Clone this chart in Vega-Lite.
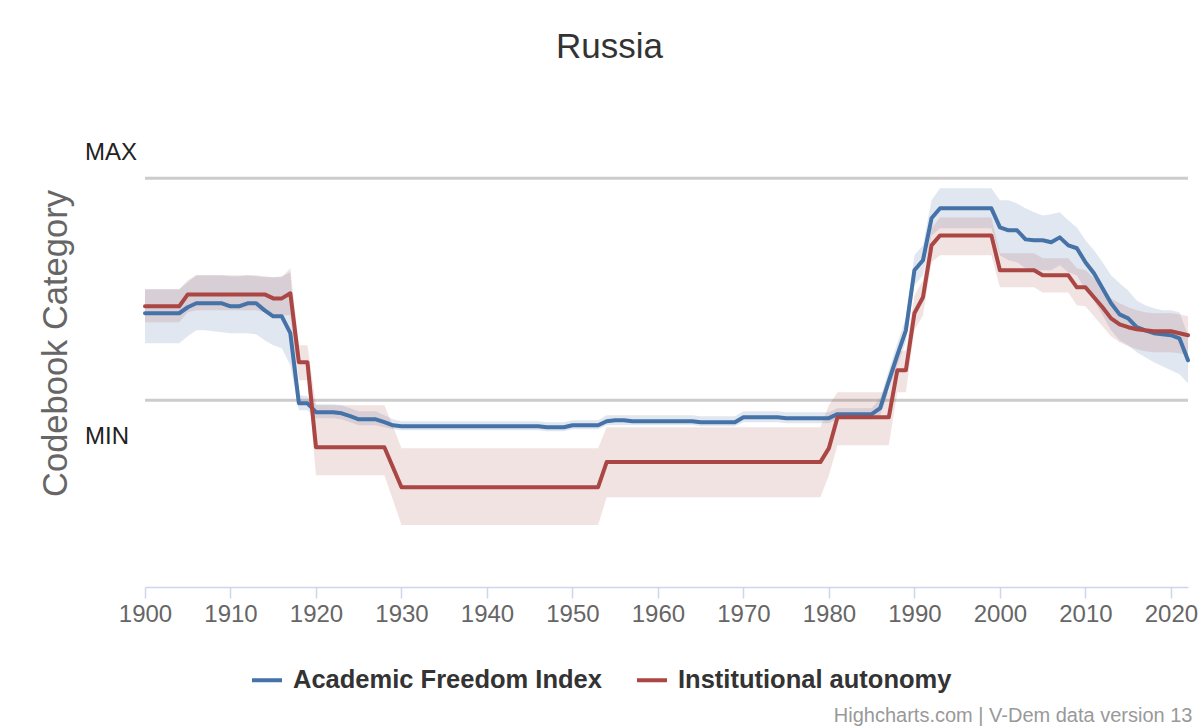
{
  "$schema": "https://vega.github.io/schema/vega-lite/v6.json",
  "width": 1043,
  "height": 453,
  "autosize": {"type": "none"},
  "padding": {"left": 145, "top": 134, "right": 11, "bottom": 139},
  "background": "white",
  "config": {"font": "Liberation Sans", "view": {"stroke": null}},
  "title": {"text": "Russia", "fontSize": 35, "font": "Liberation Sans", "fontWeight": "normal", "color": "#333333", "anchor": "middle", "frame": "group", "dx": -57, "offset": 69},
  "datasets": {
    "russia": [
      {"year":1900,"afi":0.392,"afiHi":0.5,"afiLo":0.257,"ia":0.423,"iaHi":0.5,"iaLo":0.351},
      {"year":1901,"afi":0.392,"afiHi":0.5,"afiLo":0.257,"ia":0.423,"iaHi":0.5,"iaLo":0.351},
      {"year":1902,"afi":0.392,"afiHi":0.5,"afiLo":0.257,"ia":0.423,"iaHi":0.5,"iaLo":0.351},
      {"year":1903,"afi":0.392,"afiHi":0.5,"afiLo":0.257,"ia":0.423,"iaHi":0.5,"iaLo":0.351},
      {"year":1904,"afi":0.392,"afiHi":0.5,"afiLo":0.257,"ia":0.423,"iaHi":0.5,"iaLo":0.351},
      {"year":1905,"afi":0.419,"afiHi":0.532,"afiLo":0.288,"ia":0.477,"iaHi":0.541,"iaLo":0.396},
      {"year":1906,"afi":0.437,"afiHi":0.563,"afiLo":0.315,"ia":0.477,"iaHi":0.563,"iaLo":0.405},
      {"year":1907,"afi":0.437,"afiHi":0.563,"afiLo":0.315,"ia":0.477,"iaHi":0.563,"iaLo":0.405},
      {"year":1908,"afi":0.437,"afiHi":0.563,"afiLo":0.311,"ia":0.477,"iaHi":0.563,"iaLo":0.405},
      {"year":1909,"afi":0.437,"afiHi":0.563,"afiLo":0.306,"ia":0.477,"iaHi":0.563,"iaLo":0.405},
      {"year":1910,"afi":0.423,"afiHi":0.559,"afiLo":0.302,"ia":0.477,"iaHi":0.563,"iaLo":0.405},
      {"year":1911,"afi":0.423,"afiHi":0.559,"afiLo":0.302,"ia":0.477,"iaHi":0.563,"iaLo":0.405},
      {"year":1912,"afi":0.437,"afiHi":0.563,"afiLo":0.302,"ia":0.477,"iaHi":0.563,"iaLo":0.405},
      {"year":1913,"afi":0.437,"afiHi":0.559,"afiLo":0.297,"ia":0.477,"iaHi":0.563,"iaLo":0.405},
      {"year":1914,"afi":0.405,"afiHi":0.554,"afiLo":0.270,"ia":0.477,"iaHi":0.559,"iaLo":0.396},
      {"year":1915,"afi":0.378,"afiHi":0.554,"afiLo":0.248,"ia":0.459,"iaHi":0.554,"iaLo":0.383},
      {"year":1916,"afi":0.378,"afiHi":0.559,"afiLo":0.234,"ia":0.459,"iaHi":0.554,"iaLo":0.383},
      {"year":1917,"afi":0.302,"afiHi":0.577,"afiLo":0.158,"ia":0.482,"iaHi":0.595,"iaLo":0.383},
      {"year":1918,"afi":-0.014,"afiHi":0.023,"afiLo":-0.045,"ia":0.171,"iaHi":0.248,"iaLo":0.090},
      {"year":1919,"afi":-0.014,"afiHi":0.018,"afiLo":-0.045,"ia":0.171,"iaHi":0.248,"iaLo":0.090},
      {"year":1920,"afi":-0.054,"afiHi":-0.018,"afiLo":-0.081,"ia":-0.212,"iaHi":-0.023,"iaLo":-0.338},
      {"year":1921,"afi":-0.054,"afiHi":-0.018,"afiLo":-0.081,"ia":-0.212,"iaHi":-0.023,"iaLo":-0.338},
      {"year":1922,"afi":-0.054,"afiHi":-0.018,"afiLo":-0.081,"ia":-0.212,"iaHi":-0.023,"iaLo":-0.338},
      {"year":1923,"afi":-0.059,"afiHi":-0.023,"afiLo":-0.086,"ia":-0.212,"iaHi":-0.023,"iaLo":-0.338},
      {"year":1924,"afi":-0.072,"afiHi":-0.036,"afiLo":-0.099,"ia":-0.212,"iaHi":-0.023,"iaLo":-0.338},
      {"year":1925,"afi":-0.086,"afiHi":-0.050,"afiLo":-0.113,"ia":-0.212,"iaHi":-0.023,"iaLo":-0.338},
      {"year":1926,"afi":-0.086,"afiHi":-0.050,"afiLo":-0.113,"ia":-0.212,"iaHi":-0.023,"iaLo":-0.338},
      {"year":1927,"afi":-0.086,"afiHi":-0.050,"afiLo":-0.113,"ia":-0.212,"iaHi":-0.023,"iaLo":-0.338},
      {"year":1928,"afi":-0.099,"afiHi":-0.068,"afiLo":-0.122,"ia":-0.212,"iaHi":-0.023,"iaLo":-0.338},
      {"year":1929,"afi":-0.113,"afiHi":-0.086,"afiLo":-0.131,"ia":-0.302,"iaHi":-0.117,"iaLo":-0.450},
      {"year":1930,"afi":-0.117,"afiHi":-0.095,"afiLo":-0.135,"ia":-0.392,"iaHi":-0.216,"iaLo":-0.563},
      {"year":1931,"afi":-0.117,"afiHi":-0.095,"afiLo":-0.135,"ia":-0.392,"iaHi":-0.216,"iaLo":-0.563},
      {"year":1932,"afi":-0.117,"afiHi":-0.095,"afiLo":-0.135,"ia":-0.392,"iaHi":-0.216,"iaLo":-0.563},
      {"year":1933,"afi":-0.117,"afiHi":-0.095,"afiLo":-0.135,"ia":-0.392,"iaHi":-0.216,"iaLo":-0.563},
      {"year":1934,"afi":-0.117,"afiHi":-0.095,"afiLo":-0.135,"ia":-0.392,"iaHi":-0.216,"iaLo":-0.563},
      {"year":1935,"afi":-0.117,"afiHi":-0.095,"afiLo":-0.135,"ia":-0.392,"iaHi":-0.216,"iaLo":-0.563},
      {"year":1936,"afi":-0.117,"afiHi":-0.095,"afiLo":-0.135,"ia":-0.392,"iaHi":-0.216,"iaLo":-0.563},
      {"year":1937,"afi":-0.117,"afiHi":-0.095,"afiLo":-0.135,"ia":-0.392,"iaHi":-0.216,"iaLo":-0.563},
      {"year":1938,"afi":-0.117,"afiHi":-0.095,"afiLo":-0.135,"ia":-0.392,"iaHi":-0.216,"iaLo":-0.563},
      {"year":1939,"afi":-0.117,"afiHi":-0.095,"afiLo":-0.135,"ia":-0.392,"iaHi":-0.216,"iaLo":-0.563},
      {"year":1940,"afi":-0.117,"afiHi":-0.095,"afiLo":-0.135,"ia":-0.392,"iaHi":-0.216,"iaLo":-0.563},
      {"year":1941,"afi":-0.117,"afiHi":-0.095,"afiLo":-0.135,"ia":-0.392,"iaHi":-0.216,"iaLo":-0.563},
      {"year":1942,"afi":-0.117,"afiHi":-0.095,"afiLo":-0.135,"ia":-0.392,"iaHi":-0.216,"iaLo":-0.563},
      {"year":1943,"afi":-0.117,"afiHi":-0.095,"afiLo":-0.135,"ia":-0.392,"iaHi":-0.216,"iaLo":-0.563},
      {"year":1944,"afi":-0.117,"afiHi":-0.095,"afiLo":-0.135,"ia":-0.392,"iaHi":-0.216,"iaLo":-0.563},
      {"year":1945,"afi":-0.117,"afiHi":-0.095,"afiLo":-0.135,"ia":-0.392,"iaHi":-0.216,"iaLo":-0.563},
      {"year":1946,"afi":-0.117,"afiHi":-0.095,"afiLo":-0.135,"ia":-0.392,"iaHi":-0.216,"iaLo":-0.563},
      {"year":1947,"afi":-0.122,"afiHi":-0.099,"afiLo":-0.140,"ia":-0.392,"iaHi":-0.216,"iaLo":-0.563},
      {"year":1948,"afi":-0.122,"afiHi":-0.099,"afiLo":-0.140,"ia":-0.392,"iaHi":-0.216,"iaLo":-0.563},
      {"year":1949,"afi":-0.122,"afiHi":-0.099,"afiLo":-0.140,"ia":-0.392,"iaHi":-0.216,"iaLo":-0.563},
      {"year":1950,"afi":-0.113,"afiHi":-0.090,"afiLo":-0.131,"ia":-0.392,"iaHi":-0.216,"iaLo":-0.563},
      {"year":1951,"afi":-0.113,"afiHi":-0.090,"afiLo":-0.131,"ia":-0.392,"iaHi":-0.216,"iaLo":-0.563},
      {"year":1952,"afi":-0.113,"afiHi":-0.090,"afiLo":-0.131,"ia":-0.392,"iaHi":-0.216,"iaLo":-0.563},
      {"year":1953,"afi":-0.113,"afiHi":-0.090,"afiLo":-0.131,"ia":-0.392,"iaHi":-0.216,"iaLo":-0.563},
      {"year":1954,"afi":-0.095,"afiHi":-0.068,"afiLo":-0.113,"ia":-0.279,"iaHi":-0.122,"iaLo":-0.437},
      {"year":1955,"afi":-0.090,"afiHi":-0.068,"afiLo":-0.113,"ia":-0.279,"iaHi":-0.122,"iaLo":-0.437},
      {"year":1956,"afi":-0.090,"afiHi":-0.068,"afiLo":-0.113,"ia":-0.279,"iaHi":-0.122,"iaLo":-0.437},
      {"year":1957,"afi":-0.095,"afiHi":-0.068,"afiLo":-0.113,"ia":-0.279,"iaHi":-0.122,"iaLo":-0.437},
      {"year":1958,"afi":-0.095,"afiHi":-0.068,"afiLo":-0.113,"ia":-0.279,"iaHi":-0.122,"iaLo":-0.437},
      {"year":1959,"afi":-0.095,"afiHi":-0.068,"afiLo":-0.113,"ia":-0.279,"iaHi":-0.122,"iaLo":-0.437},
      {"year":1960,"afi":-0.095,"afiHi":-0.068,"afiLo":-0.113,"ia":-0.279,"iaHi":-0.122,"iaLo":-0.437},
      {"year":1961,"afi":-0.095,"afiHi":-0.068,"afiLo":-0.113,"ia":-0.279,"iaHi":-0.122,"iaLo":-0.437},
      {"year":1962,"afi":-0.095,"afiHi":-0.068,"afiLo":-0.113,"ia":-0.279,"iaHi":-0.122,"iaLo":-0.437},
      {"year":1963,"afi":-0.095,"afiHi":-0.068,"afiLo":-0.113,"ia":-0.279,"iaHi":-0.122,"iaLo":-0.437},
      {"year":1964,"afi":-0.095,"afiHi":-0.068,"afiLo":-0.113,"ia":-0.279,"iaHi":-0.122,"iaLo":-0.437},
      {"year":1965,"afi":-0.099,"afiHi":-0.072,"afiLo":-0.117,"ia":-0.279,"iaHi":-0.122,"iaLo":-0.437},
      {"year":1966,"afi":-0.099,"afiHi":-0.072,"afiLo":-0.117,"ia":-0.279,"iaHi":-0.122,"iaLo":-0.437},
      {"year":1967,"afi":-0.099,"afiHi":-0.072,"afiLo":-0.117,"ia":-0.279,"iaHi":-0.122,"iaLo":-0.437},
      {"year":1968,"afi":-0.099,"afiHi":-0.072,"afiLo":-0.117,"ia":-0.279,"iaHi":-0.122,"iaLo":-0.437},
      {"year":1969,"afi":-0.099,"afiHi":-0.072,"afiLo":-0.117,"ia":-0.279,"iaHi":-0.122,"iaLo":-0.437},
      {"year":1970,"afi":-0.077,"afiHi":-0.050,"afiLo":-0.099,"ia":-0.279,"iaHi":-0.122,"iaLo":-0.437},
      {"year":1971,"afi":-0.077,"afiHi":-0.050,"afiLo":-0.099,"ia":-0.279,"iaHi":-0.122,"iaLo":-0.437},
      {"year":1972,"afi":-0.077,"afiHi":-0.050,"afiLo":-0.099,"ia":-0.279,"iaHi":-0.122,"iaLo":-0.437},
      {"year":1973,"afi":-0.077,"afiHi":-0.050,"afiLo":-0.099,"ia":-0.279,"iaHi":-0.122,"iaLo":-0.437},
      {"year":1974,"afi":-0.077,"afiHi":-0.050,"afiLo":-0.099,"ia":-0.279,"iaHi":-0.122,"iaLo":-0.437},
      {"year":1975,"afi":-0.081,"afiHi":-0.054,"afiLo":-0.104,"ia":-0.279,"iaHi":-0.122,"iaLo":-0.437},
      {"year":1976,"afi":-0.081,"afiHi":-0.054,"afiLo":-0.104,"ia":-0.279,"iaHi":-0.122,"iaLo":-0.437},
      {"year":1977,"afi":-0.081,"afiHi":-0.054,"afiLo":-0.104,"ia":-0.279,"iaHi":-0.122,"iaLo":-0.437},
      {"year":1978,"afi":-0.081,"afiHi":-0.054,"afiLo":-0.104,"ia":-0.279,"iaHi":-0.122,"iaLo":-0.437},
      {"year":1979,"afi":-0.081,"afiHi":-0.054,"afiLo":-0.104,"ia":-0.279,"iaHi":-0.122,"iaLo":-0.437},
      {"year":1980,"afi":-0.081,"afiHi":-0.054,"afiLo":-0.104,"ia":-0.216,"iaHi":-0.023,"iaLo":-0.338},
      {"year":1981,"afi":-0.063,"afiHi":-0.036,"afiLo":-0.086,"ia":-0.077,"iaHi":0.036,"iaLo":-0.203},
      {"year":1982,"afi":-0.063,"afiHi":-0.036,"afiLo":-0.086,"ia":-0.077,"iaHi":0.036,"iaLo":-0.203},
      {"year":1983,"afi":-0.063,"afiHi":-0.036,"afiLo":-0.086,"ia":-0.077,"iaHi":0.036,"iaLo":-0.203},
      {"year":1984,"afi":-0.063,"afiHi":-0.036,"afiLo":-0.086,"ia":-0.077,"iaHi":0.036,"iaLo":-0.203},
      {"year":1985,"afi":-0.063,"afiHi":-0.036,"afiLo":-0.086,"ia":-0.077,"iaHi":0.036,"iaLo":-0.203},
      {"year":1986,"afi":-0.036,"afiHi":0.009,"afiLo":-0.068,"ia":-0.077,"iaHi":0.036,"iaLo":-0.203},
      {"year":1987,"afi":0.086,"afiHi":0.135,"afiLo":0.045,"ia":-0.077,"iaHi":0.036,"iaLo":-0.203},
      {"year":1988,"afi":0.203,"afiHi":0.257,"afiLo":0.158,"ia":0.135,"iaHi":0.216,"iaLo":0.036},
      {"year":1989,"afi":0.315,"afiHi":0.369,"afiLo":0.261,"ia":0.135,"iaHi":0.225,"iaLo":0.036},
      {"year":1990,"afi":0.586,"afiHi":0.653,"afiLo":0.518,"ia":0.392,"iaHi":0.473,"iaLo":0.315},
      {"year":1991,"afi":0.631,"afiHi":0.698,"afiLo":0.563,"ia":0.464,"iaHi":0.541,"iaLo":0.383},
      {"year":1992,"afi":0.820,"afiHi":0.901,"afiLo":0.743,"ia":0.698,"iaHi":0.775,"iaLo":0.622},
      {"year":1993,"afi":0.865,"afiHi":0.955,"afiLo":0.775,"ia":0.743,"iaHi":0.824,"iaLo":0.653},
      {"year":1994,"afi":0.865,"afiHi":0.955,"afiLo":0.775,"ia":0.743,"iaHi":0.824,"iaLo":0.653},
      {"year":1995,"afi":0.865,"afiHi":0.955,"afiLo":0.775,"ia":0.743,"iaHi":0.824,"iaLo":0.653},
      {"year":1996,"afi":0.865,"afiHi":0.955,"afiLo":0.775,"ia":0.743,"iaHi":0.824,"iaLo":0.653},
      {"year":1997,"afi":0.865,"afiHi":0.955,"afiLo":0.775,"ia":0.743,"iaHi":0.824,"iaLo":0.653},
      {"year":1998,"afi":0.865,"afiHi":0.955,"afiLo":0.775,"ia":0.743,"iaHi":0.824,"iaLo":0.653},
      {"year":1999,"afi":0.865,"afiHi":0.955,"afiLo":0.775,"ia":0.743,"iaHi":0.824,"iaLo":0.653},
      {"year":2000,"afi":0.779,"afiHi":0.901,"afiLo":0.653,"ia":0.586,"iaHi":0.662,"iaLo":0.509},
      {"year":2001,"afi":0.766,"afiHi":0.901,"afiLo":0.631,"ia":0.586,"iaHi":0.662,"iaLo":0.509},
      {"year":2002,"afi":0.766,"afiHi":0.887,"afiLo":0.622,"ia":0.586,"iaHi":0.662,"iaLo":0.509},
      {"year":2003,"afi":0.725,"afiHi":0.865,"afiLo":0.595,"ia":0.586,"iaHi":0.662,"iaLo":0.509},
      {"year":2004,"afi":0.721,"afiHi":0.847,"afiLo":0.586,"ia":0.586,"iaHi":0.662,"iaLo":0.509},
      {"year":2005,"afi":0.721,"afiHi":0.833,"afiLo":0.586,"ia":0.563,"iaHi":0.640,"iaLo":0.486},
      {"year":2006,"afi":0.712,"afiHi":0.838,"afiLo":0.586,"ia":0.563,"iaHi":0.640,"iaLo":0.486},
      {"year":2007,"afi":0.734,"afiHi":0.847,"afiLo":0.608,"ia":0.563,"iaHi":0.640,"iaLo":0.486},
      {"year":2008,"afi":0.698,"afiHi":0.811,"afiLo":0.577,"ia":0.563,"iaHi":0.640,"iaLo":0.486},
      {"year":2009,"afi":0.685,"afiHi":0.779,"afiLo":0.563,"ia":0.509,"iaHi":0.595,"iaLo":0.428},
      {"year":2010,"afi":0.622,"afiHi":0.721,"afiLo":0.495,"ia":0.509,"iaHi":0.586,"iaLo":0.423},
      {"year":2011,"afi":0.572,"afiHi":0.676,"afiLo":0.450,"ia":0.464,"iaHi":0.550,"iaLo":0.378},
      {"year":2012,"afi":0.505,"afiHi":0.622,"afiLo":0.383,"ia":0.419,"iaHi":0.505,"iaLo":0.333},
      {"year":2013,"afi":0.437,"afiHi":0.563,"afiLo":0.315,"ia":0.369,"iaHi":0.459,"iaLo":0.288},
      {"year":2014,"afi":0.387,"afiHi":0.527,"afiLo":0.270,"ia":0.342,"iaHi":0.437,"iaLo":0.261},
      {"year":2015,"afi":0.369,"afiHi":0.495,"afiLo":0.248,"ia":0.329,"iaHi":0.419,"iaLo":0.243},
      {"year":2016,"afi":0.329,"afiHi":0.450,"afiLo":0.216,"ia":0.320,"iaHi":0.405,"iaLo":0.230},
      {"year":2017,"afi":0.315,"afiHi":0.428,"afiLo":0.194,"ia":0.315,"iaHi":0.396,"iaLo":0.221},
      {"year":2018,"afi":0.302,"afiHi":0.414,"afiLo":0.171,"ia":0.311,"iaHi":0.392,"iaLo":0.216},
      {"year":2019,"afi":0.297,"afiHi":0.405,"afiLo":0.153,"ia":0.311,"iaHi":0.392,"iaLo":0.216},
      {"year":2020,"afi":0.293,"afiHi":0.405,"afiLo":0.135,"ia":0.311,"iaHi":0.392,"iaLo":0.216},
      {"year":2021,"afi":0.279,"afiHi":0.396,"afiLo":0.117,"ia":0.302,"iaHi":0.387,"iaLo":0.212},
      {"year":2022,"afi":0.180,"afiHi":0.293,"afiLo":0.077,"ia":0.293,"iaHi":0.378,"iaLo":0.203}
    ]
  },
  "layer": [
    {
      "data": {"values": [{"v": 0}, {"v": 1}]},
      "mark": {"type": "rule", "color": "#cccccc", "strokeWidth": 3},
      "encoding": {
        "y": {"field": "v", "type": "quantitative", "scale": {"domain": [-0.842, 1.2], "nice": false, "zero": false},
          "axis": {"title": "Codebook Category", "titleFontSize": 34.5, "titleColor": "#666666", "titleFontWeight": "normal", "titleFont": "Liberation Sans", "titleX": -89, "titleY": 209, "titleAngle": 270, "titleAlign": "center", "titleBaseline": "middle", "labels": false, "ticks": false, "domain": false, "grid": false}}
      }
    },
    {
      "data": {"name": "russia"},
      "mark": {"type": "area", "color": "#4572A7", "opacity": 0.17},
      "encoding": {
        "x": {"field": "year", "type": "quantitative", "scale": {"domain": [1900, 2022], "nice": false, "zero": false}},
        "y": {"field": "afiLo", "type": "quantitative", "scale": {"domain": [-0.842, 1.2], "nice": false, "zero": false}},
        "y2": {"field": "afiHi"}
      }
    },
    {
      "data": {"name": "russia"},
      "mark": {"type": "area", "color": "#AA4643", "opacity": 0.15},
      "encoding": {
        "x": {"field": "year", "type": "quantitative", "scale": {"domain": [1900, 2022], "nice": false, "zero": false}},
        "y": {"field": "iaLo", "type": "quantitative", "scale": {"domain": [-0.842, 1.2], "nice": false, "zero": false}},
        "y2": {"field": "iaHi"}
      }
    },
    {
      "data": {"name": "russia"},
      "mark": {"type": "line", "strokeWidth": 4, "strokeJoin": "round", "strokeCap": "round"},
      "encoding": {
        "x": {"field": "year", "type": "quantitative", "scale": {"domain": [1900, 2022], "nice": false, "zero": false},
          "axis": {"values": [1900, 1910, 1920, 1930, 1940, 1950, 1960, 1970, 1980, 1990, 2000, 2010, 2020], "format": "d", "labelFontSize": 24, "labelColor": "#666666", "labelFont": "Liberation Sans", "labelFlush": false, "labelBound": false, "labelOverlap": false, "tickColor": "#ccd6eb", "domainColor": "#ccd6eb", "tickSize": 11, "tickWidth": 1.5, "domainWidth": 1.5, "labelPadding": 4, "grid": false,
            "title": "Highcharts.com | V-Dem data version 13", "titleFont": "Liberation Sans", "titleFontSize": 20, "titleColor": "#999999", "titleFontWeight": "normal", "titleAlign": "right", "titleX": 1047, "titleY": 134, "titleBaseline": "alphabetic"}},
        "y": {"field": "afi", "type": "quantitative", "scale": {"domain": [-0.842, 1.2], "nice": false, "zero": false}},
        "color": {"datum": "Academic Freedom Index", "type": "nominal",
          "scale": {"domain": ["Academic Freedom Index", "Institutional autonomy"], "range": ["#4572A7", "#AA4643"]},
          "legend": {"orient": "none", "legendX": 105, "legendY": 529, "direction": "horizontal", "title": null, "symbolType": "stroke", "symbolSize": 900, "symbolStrokeWidth": 4, "labelFont": "Liberation Sans", "labelFontSize": 25.5, "labelFontWeight": "bold", "labelColor": "#333333", "labelOffset": 9, "columnPadding": 27, "labelLimit": 0}}
      }
    },
    {
      "data": {"name": "russia"},
      "mark": {"type": "line", "strokeWidth": 4, "strokeJoin": "round", "strokeCap": "round"},
      "encoding": {
        "x": {"field": "year", "type": "quantitative", "scale": {"domain": [1900, 2022], "nice": false, "zero": false}},
        "y": {"field": "ia", "type": "quantitative", "scale": {"domain": [-0.842, 1.2], "nice": false, "zero": false}},
        "color": {"datum": "Institutional autonomy", "type": "nominal"}
      }
    },
    {
      "data": {"values": [{"label": "MAX", "v": 1}]},
      "mark": {"type": "text", "align": "left", "baseline": "middle", "dx": -60, "dy": -25, "fontSize": 24, "color": "#222222", "font": "Liberation Sans"},
      "encoding": {
        "x": {"datum": 1900, "type": "quantitative", "scale": {"domain": [1900, 2022], "nice": false, "zero": false}},
        "y": {"field": "v", "type": "quantitative", "scale": {"domain": [-0.842, 1.2], "nice": false, "zero": false}},
        "text": {"field": "label"}
      }
    },
    {
      "data": {"values": [{"label": "MIN", "v": 0}]},
      "mark": {"type": "text", "align": "left", "baseline": "middle", "dx": -60, "dy": 37, "fontSize": 24, "color": "#222222", "font": "Liberation Sans"},
      "encoding": {
        "x": {"datum": 1900, "type": "quantitative", "scale": {"domain": [1900, 2022], "nice": false, "zero": false}},
        "y": {"field": "v", "type": "quantitative", "scale": {"domain": [-0.842, 1.2], "nice": false, "zero": false}},
        "text": {"field": "label"}
      }
    }
  ]
}
